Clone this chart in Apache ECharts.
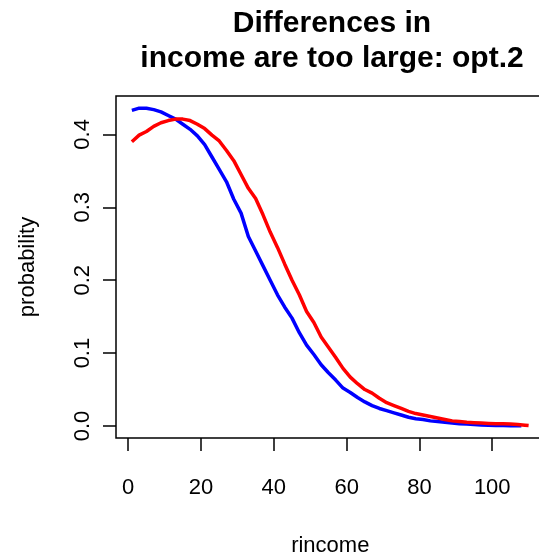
<!DOCTYPE html>
<html>
<head>
<meta charset="utf-8">
<script src="https://cdn.jsdelivr.net/npm/echarts@6/dist/echarts.min.js"></script>
<style>
  html, body { margin: 0; padding: 0; background: #fff; }
  #chart { width: 539px; height: 558px; }
</style>
</head>
<body>
<div id="chart"></div>
<script>
// rincome values where the curves were read
const incomeBlue = [1, 3, 5, 7, 9, 11, 13, 15, 17, 19, 21, 23, 25, 27, 29, 31, 33, 35, 37, 39,
  41, 43, 45, 47, 49, 51, 53, 55, 57, 59, 61, 63, 65, 67, 69, 71, 73, 75, 77, 79,
  81, 83, 85, 87, 89, 91, 93, 95, 97, 99, 101, 103, 105, 107, 108];
const probBlue = [0.433, 0.436, 0.436, 0.434, 0.431, 0.426, 0.421, 0.414, 0.407, 0.398,
  0.386, 0.369, 0.352, 0.335, 0.311, 0.292, 0.260, 0.240, 0.220, 0.200,
  0.180, 0.163, 0.148, 0.128, 0.111, 0.098, 0.084, 0.073, 0.063, 0.052,
  0.046, 0.039, 0.033, 0.028, 0.024, 0.021, 0.018, 0.015, 0.012, 0.010,
  0.009, 0.007, 0.006, 0.005, 0.004, 0.003, 0.0027, 0.002, 0.0015, 0.001,
  0.0008, 0.0005, 0.0003, 0.0002, 0.0002];

const incomeRed = [1, 3, 5, 7, 9, 11, 13, 15, 17, 19, 21, 23, 25, 27, 29, 31, 33, 35, 37, 39,
  41, 43, 45, 47, 49, 51, 53, 55, 57, 59, 61, 63, 65, 67, 69, 71, 73, 75, 77, 79,
  81, 83, 85, 87, 89, 91, 93, 95, 97, 99, 101, 103, 105, 107, 109, 110];
const probRed = [0.390, 0.399, 0.404, 0.411, 0.416, 0.419, 0.421, 0.421, 0.419, 0.414,
  0.408, 0.399, 0.391, 0.378, 0.364, 0.345, 0.326, 0.312, 0.290, 0.266,
  0.245, 0.222, 0.200, 0.180, 0.157, 0.142, 0.122, 0.108, 0.094, 0.079,
  0.067, 0.058, 0.050, 0.045, 0.038, 0.032, 0.028, 0.024, 0.020, 0.017,
  0.015, 0.013, 0.011, 0.009, 0.007, 0.006, 0.005, 0.0045, 0.004, 0.0035,
  0.003, 0.003, 0.0027, 0.002, 0.001, 0.0005];

const xTicks = [0, 20, 40, 60, 80, 100];
const yTicks = [0, 0.1, 0.2, 0.3, 0.4];

const chart = echarts.init(document.getElementById('chart'));
const font = 'Liberation Sans, Arial, sans-serif';

const pairs = (xs, ys) => xs.map((x, i) => [x, ys[i]]);

chart.setOption({
  animation: false,
  title: {
    text: 'Differences in\nincome are too large: opt.2',
    left: 327,
    textAlign: 'center',
    top: 1,
    textStyle: {
      fontFamily: font,
      fontWeight: 'bold',
      fontSize: 30,
      lineHeight: 35,
      color: '#000'
    }
  },
  grid: {
    left: 116,
    top: 96,
    width: 428.5,
    height: 342,
    show: true,
    borderColor: '#000',
    borderWidth: 1.5,
    containLabel: false,
    outerBoundsMode: 'none'
  },
  xAxis: {
    type: 'value',
    min: -3.36,
    max: 114.36,
    name: 'rincome',
    nameLocation: 'middle',
    nameGap: 97,
    nameTextStyle: { fontFamily: font, fontSize: 22, color: '#000' },
    splitLine: { show: false },
    axisLine: { show: false, onZero: false },
    axisTick: {
      show: true,
      customValues: xTicks,
      length: 13,
      lineStyle: { color: '#000', width: 1.5 }
    },
    axisLabel: {
      customValues: xTicks,
      margin: 39,
      fontFamily: font,
      fontSize: 22,
      color: '#000'
    }
  },
  yAxis: {
    type: 'value',
    min: -0.0165,
    max: 0.4527,
    name: 'probability',
    nameLocation: 'middle',
    nameRotate: 90,
    nameGap: 77,
    nameTextStyle: { fontFamily: font, fontSize: 22, color: '#000' },
    splitLine: { show: false },
    axisLine: { show: false, onZero: false },
    axisTick: {
      show: true,
      customValues: yTicks,
      length: 13,
      lineStyle: { color: '#000', width: 1.5 }
    },
    axisLabel: {
      customValues: yTicks,
      rotate: 90,
      margin: 22,
      fontFamily: font,
      fontSize: 22,
      color: '#000',
      formatter: v => v.toFixed(1)
    }
  },
  series: [
    {
      type: 'line',
      data: pairs(incomeBlue, probBlue),
      showSymbol: false,
      lineStyle: { color: '#0000ff', width: 3.5 },
      itemStyle: { color: '#0000ff' }
    },
    {
      type: 'line',
      data: pairs(incomeRed, probRed),
      showSymbol: false,
      lineStyle: { color: '#ff0000', width: 3.5 },
      itemStyle: { color: '#ff0000' }
    }
  ]
});
</script>
</body>
</html>
